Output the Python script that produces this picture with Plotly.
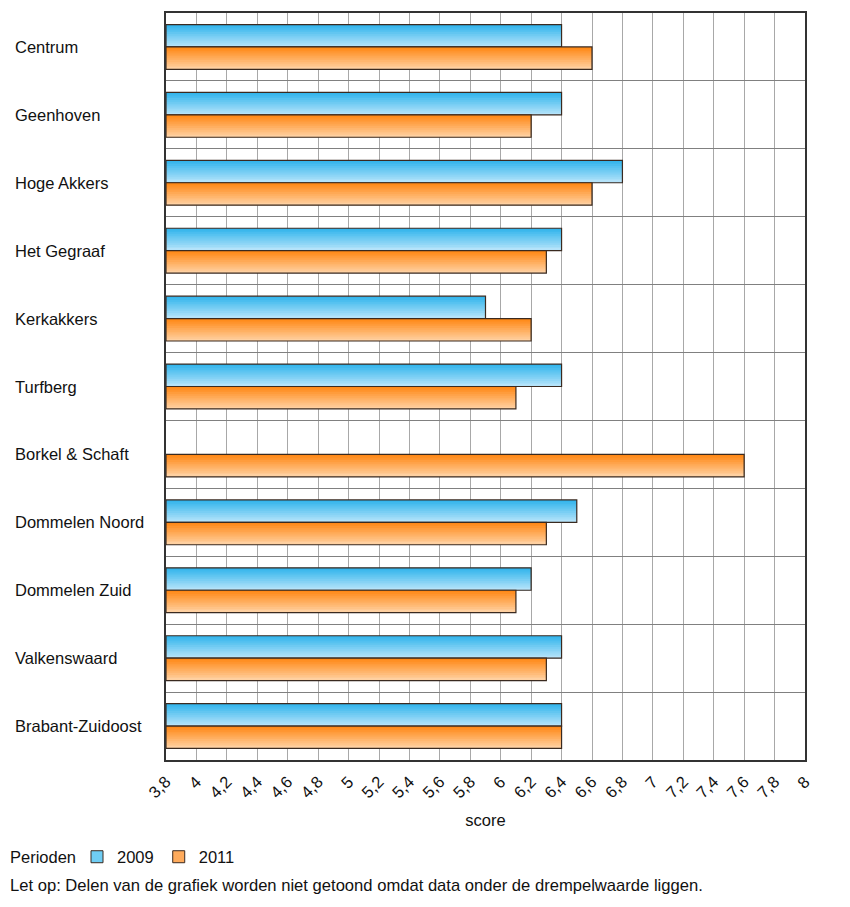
import plotly.graph_objects as go

categories = ["Centrum", "Geenhoven", "Hoge Akkers", "Het Gegraaf", "Kerkakkers",
              "Turfberg", "Borkel & Schaft", "Dommelen Noord", "Dommelen Zuid",
              "Valkenswaard", "Brabant-Zuidoost"]
values_2009 = [6.4, 6.4, 6.8, 6.4, 5.9, 6.4, None, 6.5, 6.2, 6.4, 6.4]
values_2011 = [6.6, 6.2, 6.6, 6.3, 6.2, 6.1, 7.6, 6.3, 6.1, 6.3, 6.4]
series_names = ["2009", "2011"]
tick_vals = [round(3.8 + 0.2 * i, 1) for i in range(22)]
tick_text = [("%g" % v).replace(".", ",") for v in tick_vals]

FONT = "Liberation Sans, Arial, sans-serif"
BASE = 3.8
BAR_W = 0.33
N_SLICES = 12
grad = {
    "2009": ((51, 181, 236), (180, 227, 250)),
    "2011": ((255, 136, 22), (255, 208, 160)),
}
mid = {"2009": "#6fcdf4", "2011": "#ffab5c"}
offsets = {"2009": -BAR_W, "2011": 0.0}

# page offset of 8px (body margin) compensated in margins
L, R, T, B = 158, 53, 3, 155
PW = 850 - L - R
PH = 907 - T - B

fig = go.Figure()
for name, vals in zip(series_names, [values_2009, values_2011]):
    xs = [None if v is None else v - BASE for v in vals]
    top, bot = grad[name]
    step = BAR_W / N_SLICES
    for k in range(N_SLICES):
        t = k / (N_SLICES - 1)
        c = tuple(round(top[i] + (bot[i] - top[i]) * t) for i in range(3))
        w = step * 2 if k < N_SLICES - 1 else step
        fig.add_trace(go.Bar(
            y=categories, x=xs, base=BASE, orientation="h",
            width=w, offset=offsets[name] + k * step,
            marker=dict(color="rgb(%d,%d,%d)" % c, line=dict(width=0)),
            showlegend=False, hoverinfo="skip"))
    fig.add_trace(go.Bar(
        y=categories, x=xs, base=BASE, orientation="h",
        width=BAR_W, offset=offsets[name],
        marker=dict(color="rgba(0,0,0,0)", line=dict(color="#3a2a20", width=1.2)),
        showlegend=False, name=name))
    fig.add_trace(go.Bar(
        y=[None], x=[None], orientation="h", name=name,
        marker=dict(color=mid[name], line=dict(color="#3a2a20", width=1))))

annotations = []
for c in categories:
    annotations.append(dict(x=(5 - L) / PW, xref="paper", y=c, yref="y",
                            text=c, showarrow=False, xanchor="left", yanchor="middle",
                            font=dict(family=FONT, size=16.5, color="#111")))
annotations.append(dict(
    text="Let op: Delen van de grafiek worden niet getoond omdat data onder de drempelwaarde liggen.",
    xref="paper", yref="paper", x=(0 - L) / PW, y=-(878 - (T + PH)) / PH,
    xanchor="left", yanchor="middle", showarrow=False,
    font=dict(family=FONT, size=16.6, color="#111")))
annotations.append(dict(
    text="Perioden", xref="paper", yref="paper", x=(0 - L) / PW, y=-(849 - (T + PH)) / PH,
    xanchor="left", yanchor="middle", showarrow=False,
    font=dict(family=FONT, size=16.5, color="#111")))

fig.update_layout(
    width=850, height=907,
    margin=dict(l=L, r=R, t=T, b=B),
    barmode="overlay",
    plot_bgcolor="white", paper_bgcolor="white",
    font=dict(family=FONT, size=15, color="#111"),
    xaxis=dict(range=[3.8, 8], tickvals=tick_vals, ticktext=tick_text, tickangle=-45,
               showgrid=True, gridcolor="#a8a8a8", gridwidth=1,
               showline=True, linecolor="#333", linewidth=1.5, mirror=True,
               ticks="", zeroline=False, ticklabelstandoff=4,
               title=dict(text="score", font=dict(size=16.5), standoff=14),
               tickfont=dict(size=16.5)),
    yaxis=dict(categoryorder="array", categoryarray=categories, autorange="reversed",
               tickson="boundaries", showgrid=True, gridcolor="#808080", gridwidth=1,
               showline=True, linecolor="#333", linewidth=1.5, mirror=True,
               showticklabels=False, ticks=""),
    legend=dict(orientation="h", xref="container", yref="container",
                x=69 / 850, y=1 - 849 / 907, xanchor="left", yanchor="middle",
                font=dict(size=16.5), itemwidth=30, traceorder="normal"),
    annotations=annotations,
)

fig.write_html("out.html")
